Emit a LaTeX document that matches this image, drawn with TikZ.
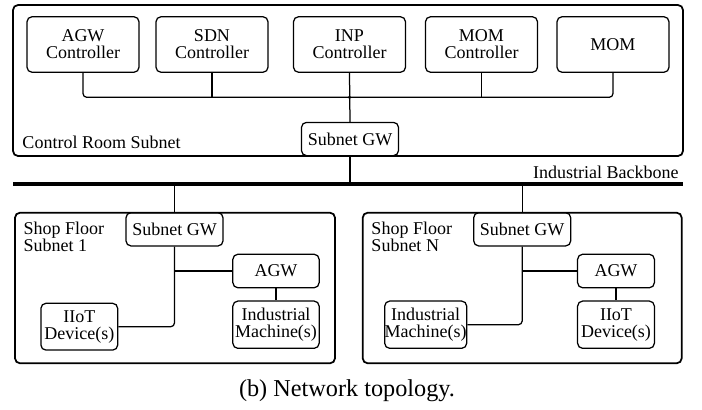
\documentclass[tikz,border=0pt]{standalone}
\usepackage{fontspec}
\setmainfont{Liberation Serif}
\usetikzlibrary{positioning}

\begin{document}
\begin{tikzpicture}[x=0.4pt,y=-0.4pt,%
      box/.style={draw,rounded corners=2pt,line width=0.5pt,inner sep=0pt,%
        align=center,font=\fontsize{7.2}{6.8}\selectfont},%
      topbox/.style={box,minimum width=44.8pt,minimum height=22.2pt},%
      gwbox/.style={box,minimum width=38.8pt,minimum height=13.3pt},%
      link/.style={line width=0.5pt,rounded corners=1.5pt},%
      subnet/.style={line width=0.7pt,rounded corners=2pt},%
      lbl/.style={inner sep=0pt,align=left,font=\fontsize{7.2}{6.8}\selectfont}%
      ]
      \useasboundingbox (0,0) rectangle (702,409);%
      %% subnets
      \draw[subnet] (13,5) rectangle (683,156);%
      \draw[subnet] (15,212.7) rectangle (335,363.3);%
      \draw[subnet] (362.7,212.7) rectangle (681.7,363.3);%
      \node[lbl,anchor=base west] (crlbl) at (22,148.3) {Control Room Subnet};%
      \node[lbl,anchor=north west] (sf1lbl) at (23,221) {Shop Floor\\Subnet 1};%
      \node[lbl,anchor=north west] (sfnlbl) at (371,221) {Shop Floor\\Subnet N};%
      %% create nodes
      \node[topbox] (agwc) at (83,44.5) {AGW\\Controller};%
      \node[topbox] (sdnc) at (212,44.5) {SDN\\Controller};%
      \node[topbox] (inpc) at (349.5,44.5) {INP\\Controller};%
      \node[topbox] (momc) at (481.5,44.5) {MOM\\Controller};%
      \node[topbox] (mom) at (613,44.5) {MOM};%
      \node[gwbox] (crgw) at (350,139) {Subnet GW};%
      \node[gwbox] (gw1) at (174.5,229.3) {Subnet GW};%
      \node[gwbox] (gwn) at (522.2,229.3) {Subnet GW};%
      \node[box,minimum width=34.5pt,minimum height=13.4pt] (agw1) at (276,271) {AGW};%
      \node[box,minimum width=34.5pt,minimum height=18.9pt] (im1) at (276,324.7) {Industrial\\Machine(s)};%
      \node[box,minimum width=30.7pt,minimum height=18.7pt] (iot1) at (79.3,326.7) {IIoT\\Device(s)};%
      \node[box,minimum width=30.7pt,minimum height=13.4pt] (agwn) at (616,271) {AGW};%
      \node[box,minimum width=30.7pt,minimum height=18.9pt] (iotn) at (616,324.7) {IIoT\\Device(s)};%
      \node[box,minimum width=30.7pt,minimum height=18.9pt] (imn) at (425.7,324.7) {Industrial\\Machine(s)};%
      %% backbone
      \coordinate (bbl) at (13,184);%
      \coordinate (bbr) at (683,184);%
      \draw[line width=1.6pt] (bbl) -- (bbr);%
      \node[lbl,anchor=base east] (bblbl) at (679,178.5) {Industrial Backbone};%
      %% control room bus
      \coordinate (bus) at (349.5,97.3);%
      \draw[link] (agwc.south) |- (bus) -| (mom.south);%
      \draw[link] (sdnc.south) -- (sdnc.south |- bus);%
      \draw[link] (momc.south) -- (momc.south |- bus);%
      \draw[link] (inpc.south) -- (crgw.north);%
      \fill (bus) circle (0.7pt);%
      \draw[link] (crgw.south) -- (crgw.south |- bbl);%
      %% shop floors
      \foreach \g/\a/\e/\d in {gw1/agw1/iot1/im1,gwn/agwn/imn/iotn} {%
        \draw[link] (\g.north) -- (\g.north |- bbl);%
        \draw[link] (\g.south) |- (\e.east);%
        \draw[link] (\g.south |- \a.west) -- (\a.west);%
        \draw[link] (\a.south) -- (\d.north);%
      }%
      %% caption
      \node[inner sep=0pt,anchor=base,font=\fontsize{9.7}{11}\selectfont] (cap) at (347,396) {(b) Network topology.};%
    \end{tikzpicture}
\end{document}
